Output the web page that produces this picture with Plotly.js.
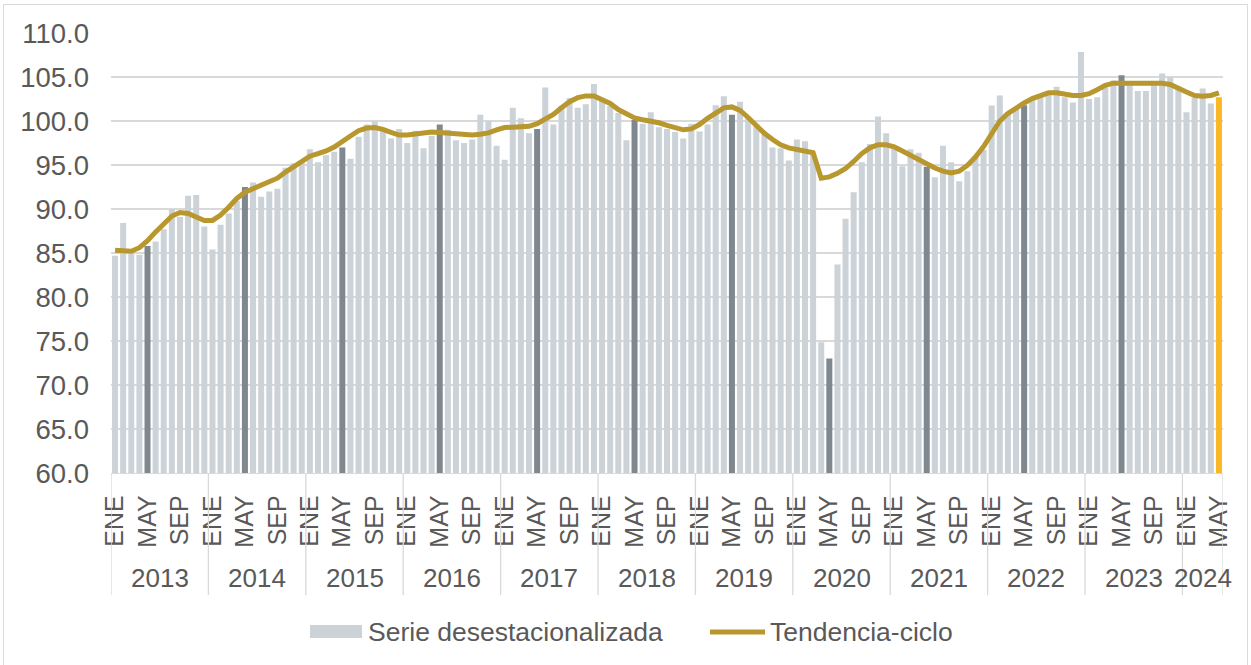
<!DOCTYPE html>
<html>
<head>
<meta charset="utf-8">
<script src="https://cdn.plot.ly/plotly-3.0.1.min.js"></script>
<style>
  html, body { margin: 0; padding: 0; background: #ffffff; }
  #frame { position: absolute; left: 3px; top: 4px; width: 1243px; height: 700px; border: 1px solid #d9d9d9; pointer-events: none; }
  #chart { position: absolute; left: 0; top: 0; width: 1251px; height: 665px; }
</style>
</head>
<body>
<div id="frame"></div>
<div id="chart"></div>
<script>
// ---- Data ----
const years = ["2013","2014","2015","2016","2017","2018","2019","2020","2021","2022","2023","2024"];
const monthNames = ["ENE","FEB","MAR","ABR","MAY","JUN","JUL","AGO","SEP","OCT","NOV","DIC"];
const shownMonths = ["ENE","MAY","SEP"];
const monthsInLastYear = 5;

// Serie desestacionalizada (ene 2013 - may 2024)
const serie = [
  84.7, 88.4, 84.9, 84.8, 85.8, 86.3, 87.7, 90.0, 89.1, 91.5, 91.6, 88.0,
  85.4, 88.2, 89.5, 90.9, 92.5, 93.0, 91.4, 92.0, 92.3, 94.7, 95.2, 95.3,
  96.8, 95.3, 96.1, 96.5, 97.0, 95.7, 98.2, 99.6, 100.0, 99.0, 98.0, 99.1,
  97.5, 98.9, 96.9, 98.3, 99.6, 99.0, 97.8, 97.5, 97.9, 100.7, 100.0, 97.2,
  95.6, 101.5, 100.3, 98.6, 99.1, 103.8, 99.6, 101.7, 102.6, 101.5, 101.9, 104.2,
  102.5, 101.7, 100.9, 97.8, 100.1, 99.7, 101.0, 99.3, 99.1, 98.75, 98.0, 99.7,
  98.8, 99.6, 101.8, 102.8, 100.7, 102.2, 100.4, 99.6, 98.6, 97.0, 96.9, 95.5,
  97.9, 97.7, 96.3, 74.85, 73.0, 83.7, 88.9, 91.9, 95.3, 97.4, 100.5, 98.6,
  96.9, 94.85, 96.8, 96.4, 94.8, 93.6, 97.2, 95.3, 93.15, 94.3, 96.0, 96.7,
  101.75, 102.9, 101.0, 101.5, 101.8, 102.5, 102.9, 103.1, 103.9, 102.7, 102.1, 107.85,
  102.5, 102.7, 103.8, 104.6, 105.2, 104.3, 103.4, 103.4, 104.2, 105.4, 105.0, 103.9,
  101.0, 102.6, 103.7, 102.0, 102.7
];

// Tendencia-ciclo
const tendencia = [
  85.3, 85.2, 85.2, 85.6, 86.4, 87.4, 88.3, 89.2, 89.6, 89.5, 89.1, 88.7,
  88.7, 89.3, 90.2, 91.2, 91.9, 92.3, 92.6, 93.0, 93.5, 94.2, 94.8, 95.3,
  96.0, 96.3, 96.6, 97.05, 97.6, 98.3, 98.9, 99.2, 99.25, 99.05, 98.7, 98.4,
  98.4, 98.5, 98.65, 98.75, 98.7, 98.6, 98.5, 98.4, 98.4, 98.5, 98.65, 99.0,
  99.25, 99.3, 99.35, 99.4, 99.7, 100.15, 100.75, 101.5, 102.2, 102.65, 102.85, 102.85,
  102.5, 102.0, 101.3, 100.75, 100.35, 100.15, 100.0, 99.8, 99.5, 99.25, 99.0, 99.1,
  99.6, 100.3, 100.95, 101.5, 101.6, 101.2, 100.4, 99.5, 98.6, 97.9, 97.3, 96.95,
  96.75, 96.55, 96.4, 93.5, 93.65, 94.05, 94.6, 95.4, 96.3, 96.95, 97.3, 97.3,
  97.05, 96.6, 96.1, 95.6, 95.15, 94.65, 94.3, 94.1, 94.3, 94.95, 95.9, 97.1,
  98.55, 100.0, 100.85, 101.5, 102.05, 102.55, 102.9, 103.2, 103.2, 103.0, 102.9, 102.9,
  103.1, 103.55, 104.05, 104.3, 104.3, 104.3, 104.3, 104.3, 104.35, 104.3, 104.15, 103.8,
  103.3, 102.9, 102.8, 102.9, 103.2
];

// ---- Build ----
const FONT = "Arial, 'Liberation Sans', sans-serif";
const TXT = "#595959";
const C_LIGHT = "#cbd2d8";
const C_DARK = "#7f888e";
const C_LAST = "#fbb726";
const C_LINE = "#b8972e";

const x = [], monthOf = [];
years.forEach((y, yi) => {
  const n = (yi === years.length - 1) ? monthsInLastYear : 12;
  for (let m = 0; m < n; m++) { x.push(x.length); monthOf.push(monthNames[m]); }
});
const N = x.length;
const colors = x.map((i) => i === N - 1 ? C_LAST : (monthOf[i] === "MAY" ? C_DARK : C_LIGHT));

const tickvals = [], ticktext = [];
x.forEach((i) => { if (shownMonths.includes(monthOf[i])) { tickvals.push(i); ticktext.push(monthOf[i]); } });

const traces = [
  { type: "bar", x: x, y: serie, name: "Serie desestacionalizada",
    marker: { color: colors }, hoverinfo: "y", showlegend: false },
  { type: "scatter", mode: "lines", x: x, y: tendencia, name: "Tendencia-ciclo",
    line: { color: C_LINE, width: 5 }, hoverinfo: "y", showlegend: false }
];

// pixel helpers for layout decorations (paper coords)
const L = 111, R = 28, T = 33, B = 192, W = 1251, H = 665;
const pw = W - L - R, ph = H - T - B;
const px2x = (p) => (p - L) / pw;
const py2y = (p) => (H - B - p) / ph;

const shapes = [];
const annotations = [];
let start = 0;
years.forEach((y, yi) => {
  const n = (yi === years.length - 1) ? monthsInLastYear : 12;
  shapes.push({ type: "line", xref: "x", yref: "paper", x0: start - 0.5, x1: start - 0.5,
    y0: 0, y1: py2y(595), line: { color: "#d9d9d9", width: 1.3 } });
  annotations.push({ xref: "x", yref: "paper", x: start + n / 2 - 0.5, y: py2y(578),
    text: y, showarrow: false, xanchor: "center", yanchor: "middle",
    font: { family: FONT, size: 26, color: TXT } });
  start += n;
});
shapes.push({ type: "line", xref: "x", yref: "paper", x0: start - 0.5, x1: start - 0.5,
  y0: 0, y1: py2y(595), line: { color: "#d9d9d9", width: 1.3 } });

// custom legend
shapes.push({ type: "rect", xref: "paper", yref: "paper", x0: px2x(310), x1: px2x(362),
  y0: py2y(638), y1: py2y(625), fillcolor: C_LIGHT, line: { width: 0 } });
shapes.push({ type: "line", xref: "paper", yref: "paper", x0: px2x(710), x1: px2x(765),
  y0: py2y(632), y1: py2y(632), line: { color: C_LINE, width: 5 } });
annotations.push({ xref: "paper", yref: "paper", x: px2x(366), y: py2y(632),
  text: "Serie desestacionalizada", showarrow: false, xanchor: "left", yanchor: "middle",
  font: { family: FONT, size: 26.5, color: TXT } });
annotations.push({ xref: "paper", yref: "paper", x: px2x(768), y: py2y(632),
  text: "Tendencia-ciclo", showarrow: false, xanchor: "left", yanchor: "middle",
  font: { family: FONT, size: 26.5, color: TXT } });

const layout = {
  width: W, height: H,
  margin: { l: L, r: R, t: T, b: B, pad: 0 },
  paper_bgcolor: "rgba(0,0,0,0)",
  plot_bgcolor: "rgba(0,0,0,0)",
  bargap: 0.26,
  showlegend: false,
  font: { family: FONT, size: 26, color: TXT },
  xaxis: {
    type: "linear", range: [-0.5, N - 0.5],
    tickvals: tickvals, ticktext: ticktext, tickangle: -90,
    tickfont: { family: FONT, size: 25, color: TXT },
    ticks: "", ticklabelstandoff: 11,
    showgrid: false, zeroline: false,
    showline: true, linecolor: "#d9d9d9", linewidth: 1.3
  },
  yaxis: {
    range: [60, 110], dtick: 5, tick0: 60, tickformat: ".1f",
    tickfont: { family: FONT, size: 27.5, color: TXT },
    ticks: "", ticklabelstandoff: 21,
    showgrid: true, gridcolor: "#d9d9d9", gridwidth: 1.3,
    zeroline: false, showline: false
  },
  shapes: shapes,
  annotations: annotations
};

Plotly.newPlot("chart", traces, layout, { displayModeBar: false, staticPlot: true });
</script>
</body>
</html>
